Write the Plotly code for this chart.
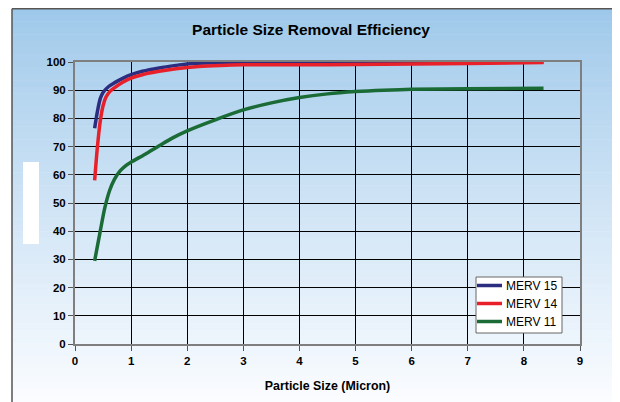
import plotly.graph_objects as go

# Data
x15 = [0.35, 0.4, 0.45, 0.5, 0.6, 0.7, 0.85, 1.0, 1.2, 1.5, 1.8, 2.0, 2.5, 3.0, 4.0, 5.0, 6.0, 7.0, 8.35]
y15 = [76.5, 82.5, 87, 89.2, 91.3, 92.6, 94.2, 95.5, 96.7, 97.9, 98.8, 99.3, 99.7, 99.8, 99.9, 99.9, 99.9, 100.0, 100.0]

x14 = [0.35, 0.4, 0.45, 0.5, 0.55, 0.62, 0.7, 0.85, 1.0, 1.2, 1.5, 1.8, 2.2, 2.6, 3.0, 4.0, 5.0, 6.0, 7.0, 8.35]
y14 = [58, 70, 79, 84.5, 87.5, 89.5, 90.8, 92.8, 94.3, 95.5, 96.7, 97.6, 98.4, 98.8, 99.0, 99.0, 99.1, 99.3, 99.5, 99.8]

x11 = [0.35, 0.45, 0.53, 0.62, 0.7, 0.8, 0.9, 1.0, 1.25, 1.5, 1.75, 2.0, 2.5, 3.0, 3.5, 4.0, 4.5, 5.0, 5.5, 6.0, 7.0, 8.35]
y11 = [29.5, 40, 48.2, 54.6, 58.3, 61.3, 63.2, 64.5, 67.3, 70.3, 73.2, 75.6, 79.5, 83.0, 85.5, 87.4, 88.7, 89.5, 90.0, 90.3, 90.5, 90.7]

series_names = ["MERV 15", "MERV 14", "MERV 11"]
series_colors = ["#2B2E80", "#E8202A", "#1A6B36"]

OFF = 8  # page body margin
W, H = 620 - OFF, 402 - OFF
L, T = 75 - OFF, 62 - OFF
R = W - (580 - OFF)
B = H - (344 - OFF)
pw, ph = W - L - R, H - T - B

def px_x(p):
    return (p - OFF - L) / pw

def px_y(p):
    return (H - B - (p - OFF)) / ph

FONT = "Liberation Sans, Arial"

fig = go.Figure()
for xs, ys, name, col in zip([x15, x14, x11], [y15, y14, y11], series_names, series_colors):
    fig.add_trace(go.Scatter(x=xs, y=ys, mode="lines", name=name, showlegend=False,
                             line=dict(color=col, width=3.5, shape="spline", smoothing=0.8)))

shapes = []
annotations = []
# gradient background
n = 60
top_c = (158, 200, 234)
bot_c = (250, 252, 255)
y0p, y1p = 8, 402
for i in range(n):
    a = y0p + (y1p - y0p) * i / n
    b = y0p + (y1p - y0p) * (i + 1) / n + 0.5
    t = (i / (n - 1)) ** 0.9
    c = tuple(int(round(top_c[k] + (bot_c[k] - top_c[k]) * t)) for k in range(3))
    shapes.append(dict(type="rect", xref="paper", yref="paper", layer="below",
                       x0=px_x(12), x1=px_x(621), y0=px_y(b), y1=px_y(a),
                       line=dict(width=0), fillcolor="rgb(%d,%d,%d)" % c))
# frame lines
shapes.append(dict(type="line", xref="paper", yref="paper", x0=px_x(12), x1=px_x(621),
                   y0=px_y(8.8), y1=px_y(8.8), line=dict(color="#555555", width=1.5)))
shapes.append(dict(type="line", xref="paper", yref="paper", x0=px_x(12), x1=px_x(12),
                   y0=px_y(8.8), y1=px_y(402), line=dict(color="#555555", width=1.5)))
# white artifact patch on left
shapes.append(dict(type="rect", xref="paper", yref="paper", layer="above",
                   x0=px_x(23), x1=px_x(39), y0=px_y(244), y1=px_y(162),
                   line=dict(width=0), fillcolor="white"))

# legend box (drawn as layout decoration)
shapes.append(dict(type="rect", xref="paper", yref="paper", layer="above",
                   x0=px_x(476), x1=px_x(562), y0=px_y(333), y1=px_y(277),
                   line=dict(color="#666666", width=1), fillcolor="white"))
leg_y = [285.5, 303.5, 321.5]
for name, col, yy in zip(series_names, series_colors, leg_y):
    shapes.append(dict(type="line", xref="paper", yref="paper", layer="above",
                       x0=px_x(477), x1=px_x(502), y0=px_y(yy), y1=px_y(yy),
                       line=dict(color=col, width=3.5)))
    annotations.append(dict(text=name, xref="paper", yref="paper", x=px_x(504), y=px_y(yy + 0.5),
                            xanchor="left", yanchor="middle", showarrow=False,
                            font=dict(family=FONT, size=12, color="black")))

fig.update_layout(
    width=W, height=H,
    margin=dict(l=L, r=R, t=T, b=B),
    paper_bgcolor="white",
    plot_bgcolor="rgba(0,0,0,0)",
    shapes=shapes,
    annotations=annotations,
    title=dict(text="Particle Size Removal Efficiency", x=(311 - OFF) / W, xanchor="center",
               y=1 - (30 - OFF) / H, yanchor="middle",
               font=dict(family=FONT, size=15.5, color="black", weight="bold")),
    showlegend=False,
    xaxis=dict(range=[0, 9], dtick=1, tick0=0, showgrid=True, gridcolor="black", gridwidth=1,
               showline=True, linecolor="#7f7f7f", linewidth=2, mirror=True,
               ticks="outside", ticklen=5, tickcolor="#555555", zeroline=False,
               tickfont=dict(family=FONT, size=11.5, color="black", weight="bold"),
               title=dict(text="Particle Size (Micron)", standoff=16,
                          font=dict(family=FONT, size=12.4, color="black", weight="bold"))),
    yaxis=dict(range=[0, 100], dtick=10, tick0=0, showgrid=True, gridcolor="black", gridwidth=1,
               showline=True, linecolor="#7f7f7f", linewidth=2, mirror=True,
               ticks="outside", ticklen=5, tickcolor="#555555", zeroline=False,
               tickfont=dict(family=FONT, size=11.5, color="black", weight="bold")),
)

fig.write_html("out.html")
